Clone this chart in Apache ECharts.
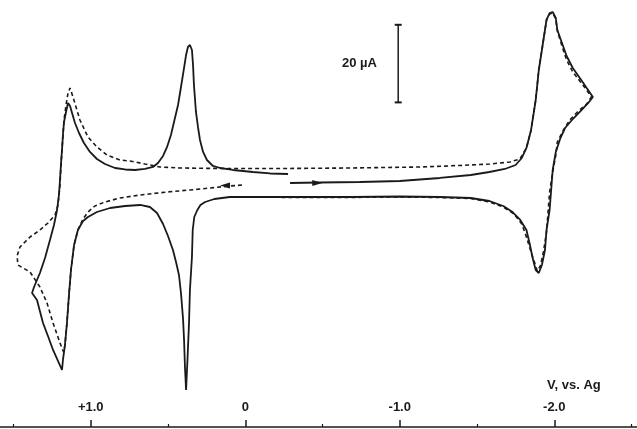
<!DOCTYPE html>
<html>
<head>
<meta charset="utf-8">
<script src="https://cdn.jsdelivr.net/npm/echarts@6/dist/echarts.min.js"></script>
<style>
html,body{margin:0;padding:0;background:#fff;}
#chart{width:637px;height:429px;}
</style>
</head>
<body>
<div id="chart"></div>
<script>
// potential (V vs Ag) and current (uA), solid scan
var solidV = [-0.29,-0.48,-0.74,-1.00,-1.26,-1.46,-1.58,-1.68,-1.75,-1.79,-1.82,-1.85,-1.88,-1.90,-1.93,-1.95,-1.97,-1.99,-2.01,-2.02,-2.05,-2.08,-2.12,-2.17,-2.21,-2.25,
	-2.22,-2.17,-2.12,-2.07,-2.04,-2.01,-1.99,-1.98,-1.97,-1.95,-1.94,-1.92,-1.90,-1.88,-1.86,-1.84,-1.82,-1.78,-1.73,-1.67,-1.58,-1.46,-1.26,-1.00,-0.68,-0.35,-0.10,0.10,0.20,0.26,0.29,0.31,0.33,0.34,0.345,0.358,0.364,0.374,0.380,0.383,
	0.390,0.396,0.403,0.416,0.429,0.448,0.468,0.500,0.532,0.571,0.617,0.681,0.778,0.875,0.960,1.018,1.050,1.083,1.108,1.128,1.141,1.154,1.167,1.180,1.186,
	1.218,1.244,1.277,1.309,1.348,1.380,
	1.367,1.329,1.296,1.264,1.238,1.218,1.206,1.199,1.193,1.186,1.180,1.173,1.160,1.147,1.134,1.121,1.102,1.076,1.044,1.005,0.960,0.908,0.843,0.778,0.714,0.649,0.597,0.565,0.532,0.506,0.481,0.455,0.435,0.416,0.396,0.383,0.371,0.358,0.345,0.338,0.332,0.319,0.306,0.293,0.273,0.248,0.209,0.163,0.079,-0.050,-0.160,-0.277];
var solidI = [-0.77,-0.64,-0.52,-0.26,0.52,1.29,2.06,2.84,3.87,5.67,8.25,12.89,20.62,28.35,36.08,41.24,43.04,43.30,41.75,38.66,35.31,31.96,28.87,26.04,23.71,21.39,
	19.85,17.78,15.72,13.40,10.82,7.22,2.58,-2.58,-7.73,-12.89,-18.04,-21.91,-23.97,-23.20,-20.10,-16.24,-12.89,-10.31,-8.25,-6.70,-5.41,-4.64,-4.38,-4.25,-4.38,-4.38,-4.38,-4.38,-4.90,-5.67,-6.44,-7.73,-9.54,-12.89,-19.85,-28.35,-36.86,-46.39,-51.55,-54.12,
	-48.45,-41.24,-35.57,-29.12,-24.48,-21.13,-18.04,-14.43,-11.34,-8.51,-6.96,-6.44,-6.70,-7.22,-8.25,-9.54,-10.57,-12.89,-16.75,-23.20,-29.64,-36.86,-42.53,-46.39,-48.97,
	-46.13,-43.81,-40.21,-36.86,-30.93,-29.12,
	-27.58,-23.97,-20.10,-15.46,-11.60,-7.73,-3.87,0,3.87,7.73,11.60,14.95,17.53,19.85,19.07,17.27,14.69,12.11,9.54,7.22,5.41,4.12,3.09,2.71,2.58,2.84,3.35,4.38,6.19,8.51,11.60,15.98,19.33,23.97,28.87,32.22,34.28,34.79,33.51,29.64,24.48,17.53,13.66,10.31,7.22,5.15,3.61,3.09,2.58,2.06,1.68,1.55];

// dashed scan
var dashedV = [0.021,0.099,0.228,0.358,0.506,0.681,0.811,0.908,0.973,1.018,1.050,1.083,1.108,1.128,1.141,1.154,1.167,1.176,
	1.199,1.244,1.283,1.329,1.393,1.471,1.477,1.458,1.393,1.329,1.277,1.231,1.212,
	1.199,1.193,1.186,1.180,1.173,1.160,1.147,1.134,1.115,1.070,1.018,0.960,0.895,0.811,0.746,0.649,0.552,0.422,0.163,-0.225,-0.678,-1.131,-1.390,-1.584,-1.713,-1.778,
	-1.82,-1.85,-1.88,-1.90,-1.93,-1.95,-1.97,-1.99,-2.01,-2.02,-2.05,-2.08,-2.12,-2.17,-2.21,-2.24,
	-2.21,-2.15,-2.10,-2.06,-2.02,-2.01,-1.99,-1.97,-1.96,-1.95,-1.93,-1.91,-1.89,-1.88,-1.85,-1.82,-1.79,-1.74,-1.67,-1.58,-1.46,-1.26,-1.00,-0.61,-0.23];
var dashedI = [-1.29,-1.55,-2.06,-2.58,-3.09,-3.87,-4.64,-5.67,-6.70,-8.25,-10.05,-12.89,-16.75,-23.20,-29.64,-36.86,-42.53,-44.33,
	-42.01,-36.86,-31.70,-27.58,-23.71,-21.91,-19.59,-17.27,-14.69,-12.89,-11.08,-9.02,-6.44,
	-1.29,3.87,7.73,11.60,15.46,19.33,22.42,23.71,21.39,15.46,11.08,8.51,6.44,5.15,4.90,4.12,3.35,3.09,2.96,2.96,3.09,3.35,3.74,4.12,4.64,5.41,
	8.25,12.89,20.62,28.35,36.08,41.24,42.78,43.04,41.49,38.40,34.54,30.93,27.84,25.26,23.20,21.39,
	19.59,17.53,15.46,12.89,9.79,6.44,2.06,-3.09,-8.25,-13.40,-18.56,-22.16,-23.45,-22.16,-18.56,-14.69,-11.34,-8.76,-6.96,-5.67,-4.77,-4.51,-4.38,-4.51,-4.51];

// scan direction arrows [V, I]
var solidArrow = [-0.466, -0.77];
var dashedArrow = [0.131, -1.42];
// 20 uA scale bar
var barV = -0.99;
var barI = [20, 40];

var zip = (a, b) => a.map((v, i) => [v, b[i]]);
var ink = '#1a1a1a';
var font = '"Liberation Sans", Arial, sans-serif';

var myChart = echarts.init(document.getElementById('chart'));
var option = {
	animation: false,
	backgroundColor: '#fff',
	grid: {
		left: -63.75,
		right: -71.75,
		top: 0,
		bottom: 2,
		containLabel: false,
		outerBoundsMode: 'none'
	},
	xAxis: {
		type: 'value',
		inverse: true, //正电位在左
		min: -3,
		max: 2,
		interval: 1,
		axisLine: { onZero: false, lineStyle: { color: ink, width: 1.5 } },
		axisTick: { inside: true, length: 7, lineStyle: { color: ink, width: 1.5 } },
		minorTick: { show: true, splitNumber: 2, length: 3, lineStyle: { color: ink, width: 1.2 } },
		splitLine: { show: false },
		axisLabel: {
			inside: true,
			margin: 13,
			color: ink,
			fontSize: 13,
			fontWeight: 'bold',
			fontFamily: font,
			formatter: function(v) {
				if (v > 1.5 || v < -2.5) return '';
				if (v === 0) return '0';
				return (v > 0 ? '+' : '') + v.toFixed(1);
			}
		}
	},
	yAxis: {
		type: 'value',
		min: -63.66,
		max: 46.39,
		show: false
	},
	graphic: [
		{ type: 'text', left: 342, top: 57, style: { text: '20 µA', fill: ink, font: 'bold 13px ' + font } },
		{ type: 'text', left: 547, top: 379, style: { text: 'V, vs. Ag', fill: ink, font: 'bold 13px ' + font } }
	],
	series: [
		{
			name: 'solid',
			type: 'line',
			data: zip(solidV, solidI),
			showSymbol: false,
			lineStyle: { color: ink, width: 1.8 },
			markPoint: {
				symbol: 'triangle',
				symbolSize: [6, 10],
				symbolRotate: -90,
				itemStyle: { color: ink },
				label: { show: false },
				data: [{ coord: solidArrow }]
			}
		},
		{
			name: 'dashed',
			type: 'line',
			data: zip(dashedV, dashedI),
			showSymbol: false,
			lineStyle: { color: ink, width: 1.6, type: [4, 3] },
			markPoint: {
				symbol: 'triangle',
				symbolSize: [6, 10],
				symbolRotate: 90,
				itemStyle: { color: ink },
				label: { show: false },
				data: [{ coord: dashedArrow }]
			}
		},
		{
			name: 'scale',
			type: 'line',
			data: barI.map(i => [barV, i]),
			symbol: 'rect',
			symbolSize: [7, 2],
			showSymbol: true,
			itemStyle: { color: ink },
			lineStyle: { color: ink, width: 1.5 }
		}
	]
};
myChart.setOption(option);
</script>
</body>
</html>
